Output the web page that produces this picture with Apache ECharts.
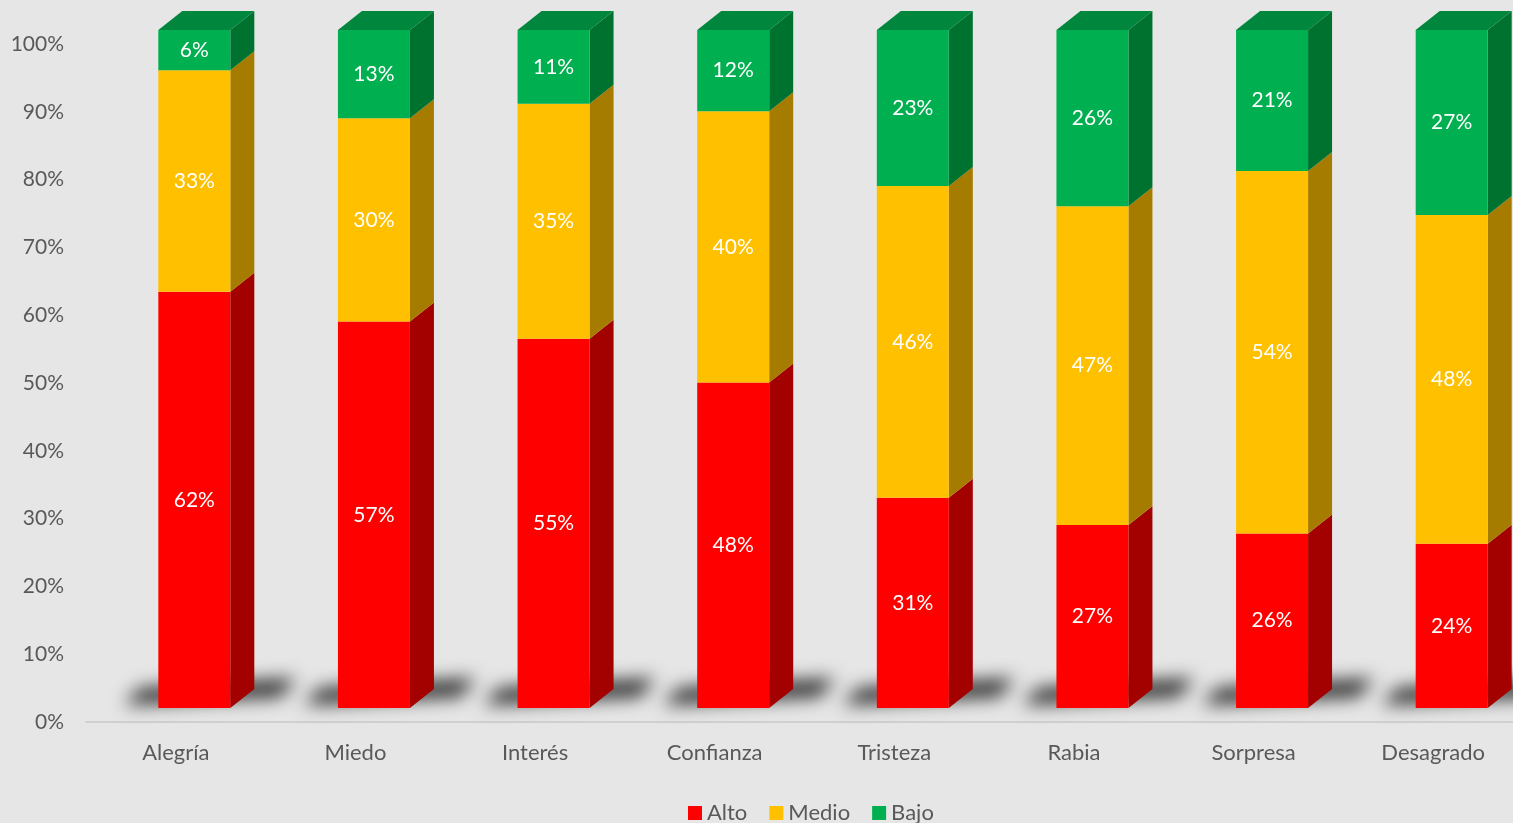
<!DOCTYPE html>
<html>
<head>
<meta charset="utf-8">
<script src="https://cdn.jsdelivr.net/npm/echarts@6/dist/echarts.min.js"></script>
<style>
html,body{margin:0;padding:0;background:#e7e6e6;}
#chart{width:1513px;height:823px;}
</style>
</head>
<body>
<div id="chart"></div>
<script>
// ---- data ----
const categories = ['Alegría','Miedo','Interés','Confianza','Tristeza','Rabia','Sorpresa','Desagrado'];
const alto  = [62,57,55,48,31,27,26,24];
const medio = [33,30,35,40,46,47,54,48];
const bajo  = [6,13,11,12,23,26,21,27];
const yTicks = [0,10,20,30,40,50,60,70,80,90,100];

// ---- style ----
const FONT = 'Lato';
const OFF_X = 18.5, HALF_W = 36, LIFT = 14, DX = 24, DY = 19;
const styles = [
  {name:'Alto',  front:'#ff0000', side:'#a30000', top:'#c00000'},
  {name:'Medio', front:'#ffc000', side:'#a67c00', top:'#c99800'},
  {name:'Bajo',  front:'#00b050', side:'#00722f', top:'#00873d'}
];

// 100% stacking (as the stacked-percent column chart does)
const levels = [alto, medio, bajo];
function stackData(k){
  return categories.map((c,i)=>{
    const tot = alto[i]+medio[i]+bajo[i];
    let lo = 0;
    for(let j=0;j<k;j++) lo += levels[j][i]/tot*100;
    const hi = lo + levels[k][i]/tot*100;
    return [i, lo, hi, levels[k][i]];
  });
}

function makeRender(k){
  const st = styles[k];
  return function(params, api){
    const ci = api.value(0), lo = api.value(1), hi = api.value(2), lab = api.value(3);
    const pLo = api.coord([ci, lo]), pHi = api.coord([ci, hi]);
    const cx = pLo[0] + OFF_X;
    const x0 = cx - HALF_W, x1 = cx + HALF_W;
    const yb = pLo[1] - LIFT, yt = pHi[1] - LIFT;
    const children = [
      {type:'polygon', shape:{points:[[x1,yb],[x1+DX,yb-DY],[x1+DX,yt-DY],[x1,yt]]}, style:{fill:st.side}},
      {type:'rect', shape:{x:x0,y:yt,width:x1-x0,height:yb-yt}, style:{fill:st.front}}
    ];
    if(k===2){
      children.push({type:'polygon', shape:{points:[[x0,yt],[x0+DX,yt-DY],[x1+DX,yt-DY],[x1,yt]]}, style:{fill:st.top}});
    }
    children.push({type:'text', x:cx, y:(yt+yb)/2, style:{text:lab+'%', fill:'#ffffff', font:'21px '+FONT, align:'center', verticalAlign:'middle'}});
    return {type:'group', children};
  };
}

function renderShadow(params, api){
  const ci = api.value(0);
  const p = api.coord([ci, 0]);
  const x0 = p[0] + OFF_X - HALF_W, yb = p[1] - LIFT;
  const SH = 4000;
  const pts = [[-34,-3],[-18,-20],[138,-30],[122,-11]].map(d=>[x0+d[0]-SH, yb+d[1]]);
  return {type:'polygon', shape:{points:pts}, style:{fill:'#000', shadowBlur:18, shadowColor:'rgba(0,0,0,0.8)', shadowOffsetX:SH, shadowOffsetY:0}};
}

const chart = echarts.init(document.getElementById('chart'), null, {renderer:'canvas'});
const series = [{
  type:'custom', name:'shadow', renderItem:renderShadow, clip:false, silent:true, z:1,
  data: categories.map((c,i)=>[i,0])
}];
styles.forEach((st,k)=>{
  series.push({
    type:'custom', name:st.name, renderItem:makeRender(k), clip:false, z:2,
    itemStyle:{color:st.front},
    encode:{x:0, y:[1,2]},
    data: stackData(k)
  });
});

chart.setOption({
  animation:false,
  backgroundColor:'#e7e6e6',
  grid:{left:86, width:1437, top:44, bottom:101, containLabel:false, outerBoundsMode:'none'},
  legend:{
    data:['Alto','Medio','Bajo'], left:683, top:797, icon:'rect',
    itemWidth:14, itemHeight:14, itemGap:22,
    textStyle:{fontFamily:FONT, fontSize:22, color:'#595959'}
  },
  xAxis:{
    type:'category', data:categories, boundaryGap:true,
    axisLine:{show:true, lineStyle:{color:'#d0d0d0', width:2}},
    axisTick:{show:false},
    axisLabel:{fontFamily:FONT, fontSize:22, color:'#595959', margin:20}
  },
  yAxis:{
    type:'value', min:0, max:100, interval:10,
    splitLine:{show:false}, axisLine:{show:false}, axisTick:{show:false},
    axisLabel:{fontFamily:FONT, fontSize:21, color:'#595959', margin:22,
      formatter:function(v){return yTicks.indexOf(v)>=0 ? v+'%' : '';}}
  },
  series: series
});
</script>
</body>
</html>
